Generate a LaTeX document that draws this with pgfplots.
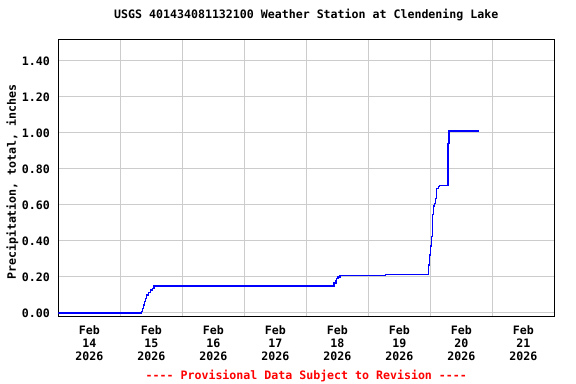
\documentclass[border=0pt]{standalone}
\usepackage{fontspec}
\newfontfamily\mono{DejaVu Sans Mono}
\usepackage{pgfplots}
\pgfplotsset{compat=1.18}
\definecolor{gridgray}{RGB}{204,204,204}
\newcommand\cf{\mono\fontsize{11.6bp}{13.2bp}\selectfont\bfseries}
\begin{document}
\begin{tikzpicture}
\useasboundingbox (0,0) rectangle (576bp,384bp);
\begin{axis}[
  name=ax,
  at={(58.3bp,68bp)}, anchor=south west,
  scale only axis, width=496bp, height=276.7bp,
  xmin=0, xmax=8, ymin=-0.0167, ymax=1.52,
  axis line style={black, line width=1bp},
  xtick={0.5,1.5,2.5,3.5,4.5,5.5,6.5,7.5},
  xticklabels={{Feb\\14\\2026},{Feb\\15\\2026},{Feb\\16\\2026},{Feb\\17\\2026},{Feb\\18\\2026},{Feb\\19\\2026},{Feb\\20\\2026},{Feb\\21\\2026}},
  xticklabel style={align=center, font=\cf, anchor=north, inner sep=0pt, yshift=-9bp},
  minor xtick={1,2,3,4,5,6,7},
  ytick={0,0.2,0.4,0.6,0.8,1.0,1.2,1.4},
  ymajorgrids, xminorgrids,
  grid style={gridgray, line width=1bp},
  major tick length=0pt, minor tick length=0pt,
  yticklabel style={font=\cf, anchor=east, inner sep=0pt, xshift=-8.3bp,
    /pgf/number format/.cd, fixed, fixed zerofill, precision=2, assume math mode=true},
  title={USGS 401434081132100 Weather Station at Clendening Lake},
  title style={font=\cf, at={(0.5,1)}, anchor=base, yshift=15.3bp},
  ylabel={Precipitation, total, inches},
  ylabel style={font=\cf, at={([xshift=-42.3bp]axis description cs:0,0.484)}, anchor=base},
]
\addplot[const plot, blue, line width=1.2bp] coordinates {
(0,0.0)
(1.345,0.007)
(1.361,0.026)
(1.377,0.044)
(1.394,0.063)
(1.410,0.081)
(1.426,0.100)
(1.458,0.113)
(1.490,0.128)
(1.516,0.137)
(1.544,0.150)
(4.447,0.167)
(4.479,0.180)
(4.492,0.190)
(4.511,0.200)
(4.544,0.209)
(5.281,0.215)
(5.974,0.267)
(5.990,0.322)
(6.006,0.372)
(6.023,0.424)
(6.032,0.548)
(6.048,0.594)
(6.065,0.609)
(6.081,0.637)
(6.097,0.693)
(6.129,0.702)
(6.152,0.709)
(6.286,0.943)
(6.302,1.011)
(6.790,1.011)
};
\end{axis}
\node[font=\cf, text=red, anchor=base, inner sep=0pt] at ([yshift=-63bp]ax.south) {---- Provisional Data Subject to Revision ----};
\end{tikzpicture}
\end{document}
